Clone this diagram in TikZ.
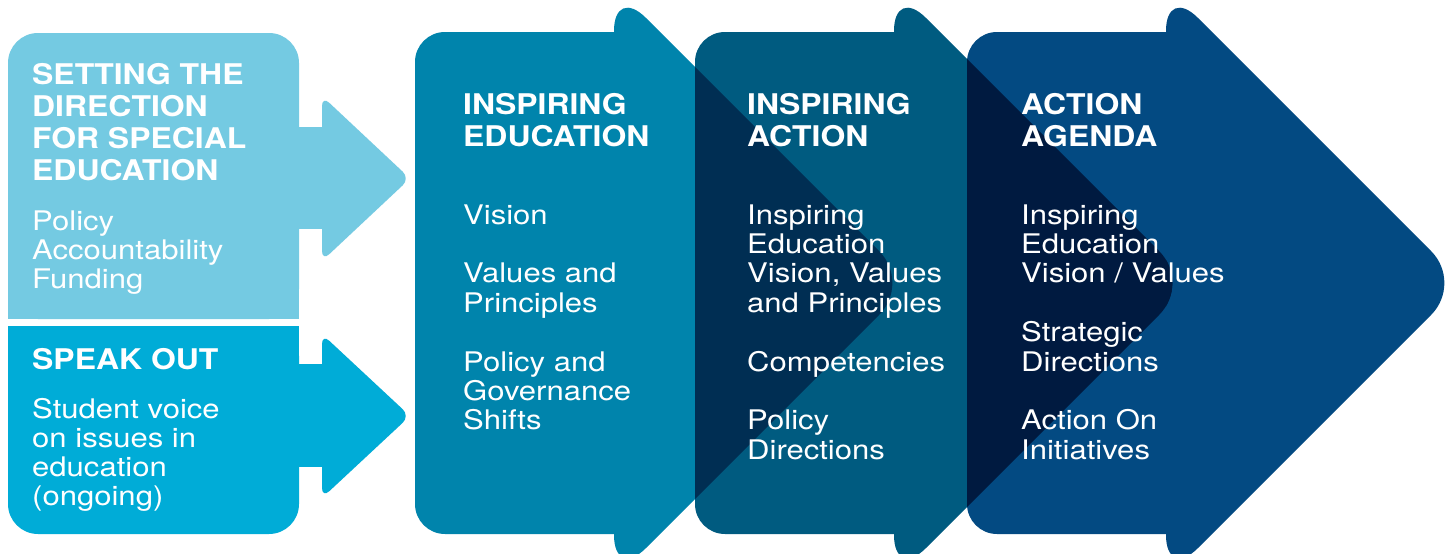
\documentclass[tikz,border=0pt]{standalone}
\usepackage{fontspec}
\newfontfamily\titlefont[FakeStretch=1.12]{TeX Gyre Heros}
\newfontfamily\bodyfont[FakeStretch=1.15]{TeX Gyre Heros}
\definecolor{cLight}{RGB}{116,202,226}
\definecolor{cCyan}{RGB}{0,172,215}
\definecolor{cA}{RGB}{0,132,172}
\definecolor{cB}{RGB}{0,91,128}
\definecolor{cC}{RGB}{3,74,130}
\definecolor{cAB}{RGB}{0,46,83}
\definecolor{cBC}{RGB}{0,26,64}
\newcommand\arrect[1]{({#1},32) -- ({#1},534) -- ({#1+235},534) -- ({#1+235},32) -- cycle}
\newcommand\artri[1]{({#1+199},-14) -- ({#1+199},580) -- ({#1+496},283) -- cycle}
\tikzset{
  rr/.style={rounded corners=30pt},
  rt/.style={rounded corners=45pt},
  sm/.style={rounded corners=10pt},
  ttl/.style={anchor=base west, inner sep=0pt, text=white, font=\titlefont\bfseries\fontsize{28.5}{32}\selectfont},
  bdy/.style={anchor=base west, inner sep=0pt, text=white, font=\bodyfont\fontsize{27}{29}\selectfont}
}
\begin{document}
\begin{tikzpicture}[x=1pt,y=-1pt]
\useasboundingbox (0,0) rectangle (1449,554);
\fill[white] (0,0) rectangle (1449,554);
% left top box with arrow
\fill[cLight,rr] (8,33) -- (8,319) -- (299,319) -- (299,33) -- cycle;
\fill[cLight] (8,200) -- (8,319) -- (299,319) -- (299,200) -- cycle;
\fill[cLight] (295,127) -- (295,229) -- (325,229) -- (325,127) -- cycle;
\fill[cLight,sm] (322,96) -- (322,261) -- (410,178.5) -- cycle;
% left bottom box with arrow
\fill[cCyan,rr] (8,326) -- (8,534) -- (299,534) -- (299,326) -- cycle;
\fill[cCyan] (8,326) -- (8,450) -- (299,450) -- (299,326) -- cycle;
\fill[cCyan] (295,364) -- (295,467) -- (325,467) -- (325,364) -- cycle;
\fill[cCyan,sm] (322,334) -- (322,498) -- (410,416) -- cycle;
% big arrows
\fill[cA,rr] \arrect{415};
\fill[cA,rt] \artri{415};
\fill[cB,rr] \arrect{695};
\fill[cB,rt] \artri{695};
\fill[cC,rr] \arrect{967};
\fill[cC,rt] \artri{967};
% overlaps
\begin{scope}
  \clip[rt] \artri{415};
  \fill[cAB,rr] \arrect{695};
  \fill[cAB,rt] \artri{695};
\end{scope}
\begin{scope}
  \clip[rt] \artri{695};
  \fill[cBC,rr] \arrect{967};
  \fill[cBC,rt] \artri{967};
\end{scope}
% texts: left top
\foreach \s [count=\i from 0] in {SETTING THE, DIRECTION, FOR SPECIAL, EDUCATION}
  \node[ttl] (sdt-\i) at (32,{84.5+\i*32}) {\s};
\foreach \s [count=\i from 0] in {Policy, Accountability, Funding}
  \node[bdy] (sdb-\i) at (32,{230.5+\i*29}) {\s};
% left bottom
\node[ttl] (sot) at (32,369.5) {SPEAK OUT};
\foreach \s [count=\i from 0] in {Student voice, on issues in, education, (ongoing)}
  \node[bdy] (sob-\i) at (32,{418+\i*29}) {\s};
% arrow 1
\foreach \s [count=\i from 0] in {INSPIRING, EDUCATION}
  \node[ttl] (iet-\i) at (463,{114.5+\i*32}) {\s};
\node[bdy] (iea-0) at (463,224) {Vision};
\foreach \s [count=\i from 0] in {Values and, Principles}
  \node[bdy] (ieb-\i) at (463,{282.8+\i*29.4}) {\s};
\foreach \s [count=\i from 0] in {Policy and, Governance, Shifts}
  \node[bdy] (iec-\i) at (463,{371+\i*29.4}) {\s};
% arrow 2
\foreach \s [count=\i from 0] in {INSPIRING, ACTION}
  \node[ttl] (iat-\i) at (747,{114.5+\i*32}) {\s};
\foreach \s [count=\i from 0] in {Inspiring, Education, {Vision, Values}, and Principles}
  \node[bdy] (iaa-\i) at (747,{224+\i*29.4}) {\s};
\node[bdy] (iab-0) at (747,371) {Competencies};
\foreach \s [count=\i from 0] in {Policy, Directions}
  \node[bdy] (iac-\i) at (747,{429.8+\i*29.4}) {\s};
% arrow 3
\foreach \s [count=\i from 0] in {ACTION, AGENDA}
  \node[ttl] (aat-\i) at (1021,{114.5+\i*32}) {\s};
\foreach \s [count=\i from 0] in {Inspiring, Education, Vision / Values}
  \node[bdy] (aaa-\i) at (1021,{224+\i*29.4}) {\s};
\foreach \s [count=\i from 0] in {Strategic, Directions}
  \node[bdy] (aab-\i) at (1021,{341.6+\i*29.4}) {\s};
\foreach \s [count=\i from 0] in {Action On, Initiatives}
  \node[bdy] (aac-\i) at (1021,{429.8+\i*29.4}) {\s};
\end{tikzpicture}
\end{document}
